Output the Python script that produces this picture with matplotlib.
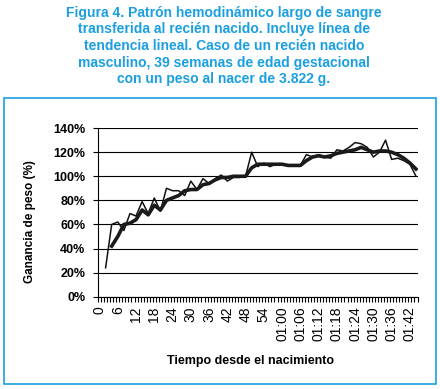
import matplotlib
matplotlib.use("Agg")
import matplotlib.pyplot as plt
import numpy as np
from matplotlib.patches import Rectangle

plt.rcParams['font.family'] = ['Liberation Sans', 'DejaVu Sans']

# Data: minutes since birth and weight gain (%)
minutes = list(range(2, 105, 2))
gain = [24, 60, 62, 55, 69, 67, 79, 69, 82, 71,
        90, 88, 88, 84, 96, 89, 98, 94, 98, 101,
        96, 99, 99, 100, 120, 108, 111, 108, 110, 110,
        109, 109, 109, 118, 116, 118, 116, 115, 122, 121,
        124, 128, 127, 124, 116, 120, 130, 114, 115, 113,
        110, 100]
# Trend line (thick)
trend_minutes = list(range(4, 105, 2))
trend = [42, 50, 60, 61, 64, 72, 68, 76, 72, 80,
         82, 84, 88, 89, 89, 93, 94, 97, 99, 99,
         100, 100, 100, 107, 110, 110, 110, 110, 110, 109,
         109, 109, 113, 116, 117, 116, 117, 119, 120, 121,
         122, 124, 122, 120, 121, 121, 120, 118, 115, 111,
         106]
label_minutes = list(range(0, 103, 6))
tick_labels = [str(m) if m < 60 else "01:%02d" % (m - 60) for m in label_minutes]
y_ticks = [0, 20, 40, 60, 80, 100, 120, 140]

title_lines = ["Figura 4. Patrón hemodinámico largo de sangre",
               "transferida al recién nacido. Incluye línea de",
               "tendencia lineal. Caso de un recién nacido",
               "masculino, 39 semanas de edad gestacional",
               "con un peso al nacer de 3.822 g."]

W, H = 440, 389
fig = plt.figure(figsize=(W / 100, H / 100), dpi=100)

blue = "#1a9fe0"
ys = [12.7, 29.3, 46, 62.7, 79]
for line, y in zip(title_lines, ys):
    fig.text(224 / W, 1 - y / H, line, ha='center', va='center', color=blue,
             fontsize=10, fontweight='bold')

fig.add_artist(Rectangle((3.5 / W, 1 - 383.5 / H), (435.5 - 3.5) / W, (383.5 - 97.5) / H,
                         transform=fig.transFigure, fill=False, edgecolor=blue, linewidth=1.2))

ax = fig.add_axes([98 / W, 1 - 296.7 / H, (417.5 - 98) / W, (296.7 - 128.1) / H])
ax.plot(minutes, gain, color='#111111', linewidth=1.1, zorder=3)
ax.plot(trend_minutes, trend, color='#1a1a1a', linewidth=2.6, zorder=4)

ax.set_xlim(-0.5, 104.5)
ax.set_ylim(0, 140)
ax.set_yticks(y_ticks)
ax.set_yticklabels(["%d%%" % v for v in y_ticks], fontsize=9, fontweight='bold')
ax.yaxis.grid(True, color='black', linewidth=0.8)
ax.set_axisbelow(True)
for sp in ['top', 'right']:
    ax.spines[sp].set_visible(False)
ax.spines['left'].set_linewidth(0.8)
ax.spines['bottom'].set_linewidth(0.8)
ax.tick_params(axis='y', length=3.6, width=0.8, pad=5.5, direction='out')

ax.set_xticks(label_minutes)
ax.set_xticklabels(tick_labels, rotation=90, fontsize=10)
ax.set_xticks(np.arange(-0.5, 105, 1), minor=True)
ax.tick_params(axis='x', which='major', length=0, pad=7)
ax.tick_params(axis='x', which='minor', length=3.6, width=0.8, direction='out')

fig.text(30 / W, 1 - 222 / H, "Ganancia de peso (%)", rotation=90, ha='center', va='center',
         fontsize=8.5, fontweight='bold')
fig.text(250 / W, 1 - 361 / H, "Tiempo desde el nacimiento", ha='center', va='center',
         fontsize=9, fontweight='bold')

fig.savefig("out.png", dpi=100)
